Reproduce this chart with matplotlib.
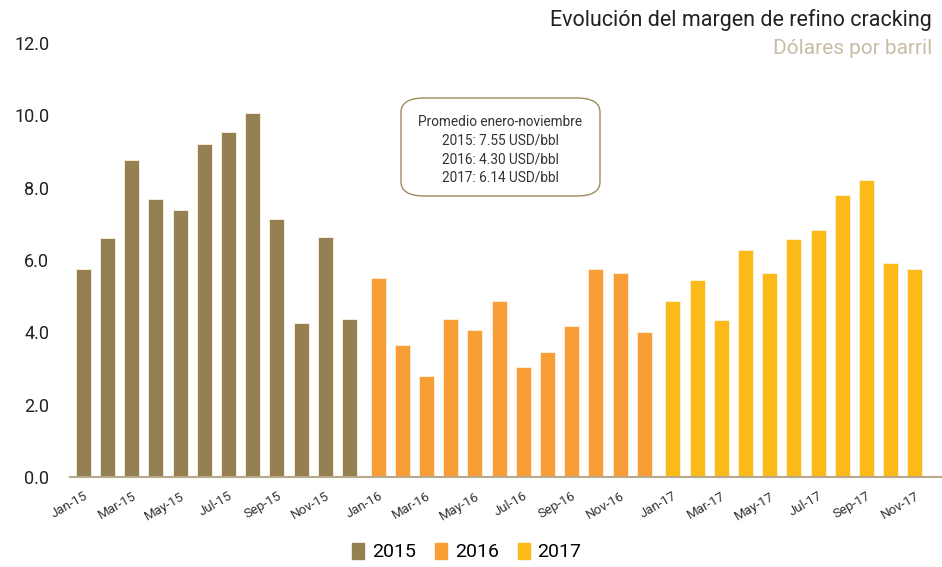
import numpy as np
import matplotlib.pyplot as plt
from matplotlib.patches import FancyBboxPatch, Patch

plt.rcParams['font.family'] = ['Roboto', 'DejaVu Sans']

months = ['Jan', 'Feb', 'Mar', 'Apr', 'May', 'Jun', 'Jul', 'Aug', 'Sep', 'Oct', 'Nov', 'Dec']
years = ['2015', '2016', '2017']
margin_2015 = [5.75, 6.60, 8.76, 7.70, 7.38, 9.20, 9.53, 10.06, 7.13, 4.25, 6.63, 4.36]
margin_2016 = [5.50, 3.65, 2.79, 4.36, 4.06, 4.86, 3.04, 3.45, 4.17, 5.75, 5.64, 4.00]
margin_2017 = [4.86, 5.44, 4.34, 6.27, 5.64, 6.57, 6.82, 7.79, 8.20, 5.91, 5.75]
colors = ['#948052', '#f99e37', '#fbba17']
box_lines = ['Promedio enero-noviembre', '2015: 7.55 USD/bbl', '2016: 4.30 USD/bbl', '2017: 6.14 USD/bbl']

fig = plt.figure(figsize=(9.42, 5.67), dpi=100)
ax = fig.add_axes([70 / 942, 1 - 477 / 567, 872 / 942, (477 - 43) / 567])

tick_pos = []
tick_lab = []
idx = 0
for k, (yr, vals) in enumerate(zip(years, [margin_2015, margin_2016, margin_2017])):
    pos = np.arange(len(vals)) + idx + 0.18 * k
    ax.bar(pos, vals, width=0.62, color=colors[k], edgecolor='#fdf3e0', linewidth=0.6)
    for i, m in enumerate(months[:len(vals)]):
        if (idx + i) % 2 == 0:
            tick_pos.append(pos[i])
            tick_lab.append(m + '-' + yr[2:])
    idx += len(vals)

ax.set_xlim(-0.55, 35.48)
ax.set_ylim(0, 12)
ax.set_yticks(np.arange(0, 12.1, 2))
ax.set_yticklabels(['%.1f' % v for v in np.arange(0, 12.1, 2)], fontsize=13, color='#222222')
ax.set_xticks(tick_pos)
ax.set_xticklabels(tick_lab, rotation=30, ha='right', rotation_mode='anchor',
                   fontsize=9.5, color='#333333')
ax.tick_params(axis='both', length=0)
ax.tick_params(axis='y', pad=15)
ax.tick_params(axis='x', pad=9)
for s in ['top', 'right', 'left']:
    ax.spines[s].set_visible(False)
ax.spines['bottom'].set_color('#b8a98a')
ax.spines['bottom'].set_linewidth(1.5)

# annotation box
bx0, by0, bx1, by1 = 401 / 942, 1 - 196 / 567, 600 / 942, 1 - 98 / 567
box = FancyBboxPatch((bx0, by0), bx1 - bx0, by1 - by0, boxstyle='round,pad=0,rounding_size=0.025',
                     transform=fig.transFigure, facecolor='white', edgecolor='#a08c5b', linewidth=1.0)
fig.patches.append(box)
for j, line in enumerate(box_lines):
    fig.text(500 / 942, 1 - (122 + j * 18.5) / 567, line, ha='center', va='center',
             fontsize=9.8, color='#333333')

fig.text(932 / 942, 1 - 20 / 567, 'Evolución del margen de refino cracking', ha='right', va='center',
         fontsize=15.5, color='#222222')
fig.text(932 / 942, 1 - 48 / 567, 'Dólares por barril', ha='right', va='center',
         fontsize=15, color='#c8bda6')

handles = [Patch(color=c, label=y) for c, y in zip(colors, years)]
fig.legend(handles=handles, loc='center', bbox_to_anchor=(467 / 942, 1 - 552 / 567), ncol=3,
           frameon=False, fontsize=14, handlelength=0.6, handleheight=0.9, handletextpad=0.4,
           columnspacing=1.0)

fig.savefig('out.png', dpi=100)
